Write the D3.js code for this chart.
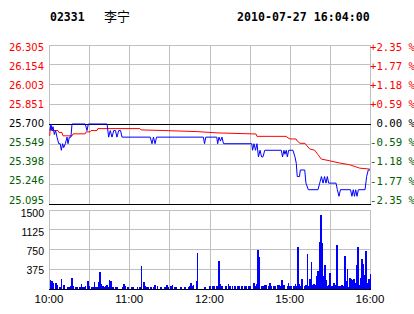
<!DOCTYPE html>
<html>
<head>
<meta charset="utf-8">
<script src="https://cdn.jsdelivr.net/npm/d3@7"></script>
<style>
  body { margin: 0; background: #fff; }
  svg { display: block; }
</style>
</head>
<body>
<div id="chart"></div>
<script>
// cabecera
const stockCode = "02331";
const stockName = "李宁";
const stamp = "2010-07-27 16:04:00";
const prevClose = 25.700;

// ejes
const priceTicks = [25.095, 25.246, 25.398, 25.549, 25.700, 25.851, 26.003, 26.154, 26.305];
const pctLabels = ["-2.35 %", "-1.77 %", "-1.18 %", "-0.59 %", " 0.00 %", "+0.59 %", "+1.18 %", "+1.77 %", "+2.35 %"];
const volTicks = [375, 750, 1125, 1500];
const timeTicks = [0, 60, 120, 180, 240];          // minutos de sesión
const timeLabels = ["10:00", "11:00", "12:00", "15:00", "16:00"];

// precio (minuto de sesión, precio)
const priceLine = [
  [0.7, 25.65], [1.5, 25.70], [2.2, 25.65], [3.0, 25.68], [4.0, 25.62], [4.9, 25.65],
  [6.0, 25.60], [7.3, 25.55], [8.4, 25.55], [9.2, 25.50], [10.2, 25.55], [11.0, 25.52],
  [12.2, 25.55], [13.5, 25.60], [14.2, 25.55], [15.2, 25.60], [16.4, 25.60], [17.2, 25.70],
  [27.1, 25.70], [28.4, 25.65], [29.4, 25.70], [43.4, 25.70], [44.6, 25.60], [45.8, 25.65],
  [47.1, 25.60], [48.4, 25.65], [49.7, 25.65], [50.8, 25.60], [52.1, 25.65], [53.5, 25.65],
  [54.6, 25.60], [75.7, 25.60], [77.0, 25.55], [78.1, 25.60], [79.3, 25.55], [80.4, 25.60],
  [115.4, 25.60], [116.3, 25.55], [117.2, 25.60], [125.4, 25.60], [126.1, 25.55], [127.1, 25.60],
  [128.2, 25.57], [129.3, 25.60], [130.5, 25.55], [151.6, 25.55], [152.2, 25.50], [153.3, 25.55],
  [154.4, 25.50], [155.5, 25.55], [156.6, 25.45], [157.8, 25.50], [158.9, 25.45], [160.0, 25.45],
  [161.3, 25.50], [173.7, 25.50], [174.6, 25.45], [175.7, 25.50], [176.4, 25.47], [177.4, 25.50],
  [178.2, 25.45], [179.2, 25.50], [182.4, 25.50], [183.9, 25.45], [184.9, 25.40], [185.6, 25.30],
  [187.3, 25.30], [187.9, 25.35], [191.2, 25.35], [192.1, 25.25], [193.9, 25.20], [201.1, 25.20],
  [202.4, 25.25], [203.7, 25.30], [204.9, 25.25], [206.0, 25.30], [207.1, 25.25], [208.1, 25.30],
  [209.1, 25.25], [214.6, 25.25], [215.6, 25.20], [216.8, 25.15], [217.9, 25.20], [225.4, 25.20],
  [226.5, 25.15], [227.5, 25.20], [228.4, 25.15], [229.3, 25.20], [230.3, 25.15], [231.3, 25.20],
  [236.3, 25.20], [237.5, 25.30], [238.7, 25.35], [240, 25.35]
];

// precio medio
const avgLine = [
  [0.5, 25.61], [1, 25.67], [2.2, 25.65], [6.7, 25.65], [7.5, 25.635], [9.7, 25.635],
  [10.5, 25.61], [17.2, 25.61], [18, 25.625], [27, 25.625], [27.7, 25.64], [30.7, 25.64],
  [31.4, 25.65], [35.9, 25.65], [36.6, 25.665], [68, 25.665], [68.8, 25.655], [86.7, 25.65],
  [110.7, 25.642], [126.4, 25.632], [154.8, 25.624], [155.5, 25.606], [177.2, 25.606],
  [178.7, 25.595], [180.2, 25.586], [184.7, 25.586], [185.6, 25.57], [187.7, 25.553],
  [191.4, 25.553], [192.4, 25.54], [194.9, 25.51], [198.7, 25.50], [201.1, 25.467],
  [203.6, 25.433], [209.9, 25.42], [217.3, 25.403], [224.8, 25.39], [232.3, 25.364], [239.8, 25.357]
];

// volumen por minuto
const volume = [
  [1,156],[2,150],[3,112],[5,112],[6,62],[8,31],[9,175],[11,62],[14,30],[15,30],[16,45],[17,194],
  [18,45],[20,30],[21,30],[23,30],[24,81],[25,30],[26,30],[27,50],[29,137],[30,45],[32,30],[33,30],
  [34,131],[35,30],[36,30],[37,131],[38,306],[39,81],[40,45],[41,30],[42,45],[43,62],[44,30],[45,156],
  [46,144],[47,30],[48,30],[50,30],[51,30],[55,30],[56,81],[57,45],[59,30],[62,30],[63,30],[66,30],
  [68,30],[69,419],[71,125],[72,45],[73,30],[74,30],[76,30],[78,30],[79,62],[81,45],[83,30],[84,30],
  [86,30],[87,30],[88,62],[89,30],[91,45],[92,62],[94,30],[95,30],[98,30],[99,30],[101,30],[102,30],
  [104,30],[105,45],[106,106],[107,45],[108,62],[110,144],[111,681],[116,30],[117,30],
  [120,38],[122,38],[123,38],[125,38],[126,38],[127,515],[128,76],[129,38],[132,38],[134,76],[135,50],
  [137,38],[139,38],[141,38],[142,38],[144,38],[146,38],[147,38],[149,38],[150,38],[153,95],[154,38],
  [155,76],[156,740],[157,590],[159,38],[160,38],[161,57],[162,57],[164,38],[165,113],[166,38],
  [168,38],[169,38],[171,57],[172,57],[173,38],[174,170],[175,57],[176,57],[178,38],[179,95],[180,38],
  [181,38],[183,38],[184,76],[185,38],[186,780],[187,76],[188,38],[189,175],[191,38],[192,57],
  [193,650],[194,38],[195,175],[196,500],[197,57],[198,76],[199,57],[200,230],[201,325],[202,880],
  [203,1405],[204,860],[205,230],[206,443],[207,158],[208,38],[209,57],[210,290],[211,45],[212,50],
  [213,107],[214,57],[215,820],[216,38],[217,45],[218,45],[219,57],[220,38],[221,614],[222,139],
  [223,367],[224,30],[225,196],[226,171],[227,160],[228,184],[229,100],[230,443],[231,785],[232,57],
  [233,196],[234,551],[235,462],[236,247],[237,703],[238,108],[239,171],[240,272]
];

const W = 414, H = 314;
const gridColor = "#c0c0c0";
const upColor = "#ff0000", downColor = "#006000";

const svg = d3.select("#chart").append("svg")
    .attr("width", W)
    .attr("height", H);

svg.append("rect").attr("width", W).attr("height", H).attr("fill", "#fff");

// escalas
const x = d3.scaleLinear().domain([0, 240]).range([49, 370]);
const y = d3.scaleLinear().domain([25.095, 26.305]).range([203.5, 44.5]);
const yLabel = d3.scaleLinear().domain([25.095, 26.305]).range([200, 47]);
const yVol = d3.scaleLinear().domain([0, 1500]).range([288.5, 209.5]);
const yVolLabel = d3.scaleLinear().domain([0, 1500]).range([289, 213.3]);

const colorFor = v => Math.abs(v - prevClose) < 1e-6 ? "#000" : (v > prevClose ? upColor : downColor);

// cabecera
const mono = "'DejaVu Sans Mono', monospace";
svg.append("text").attr("x", 50).attr("y", 21)
    .style("font", `bold 11.5px ${mono}`).text(stockCode);
svg.append("text").attr("x", 104).attr("y", 21)
    .style("font", "13px 'Noto Sans CJK SC', sans-serif").text(stockName);
svg.append("text").attr("x", 237).attr("y", 21)
    .style("font", `bold 11.6px ${mono}`).text(stamp);

// rejilla vertical (cada 30 min)
const vLines = d3.range(0, 241, 30);
[[44.5, 203.5], [209.5, 288.5]].forEach(([t, b]) => {
  svg.append("g").selectAll("line").data(vLines).enter().append("line")
      .attr("x1", d => Math.round(x(d)) + 0.5).attr("x2", d => Math.round(x(d)) + 0.5)
      .attr("y1", t).attr("y2", b)
      .attr("stroke", gridColor).attr("shape-rendering", "crispEdges");
});

// rejilla horizontal precio
svg.append("g").selectAll("line").data(priceTicks).enter().append("line")
    .attr("x1", x(0)).attr("x2", x(240) + 1)
    .attr("y1", d => Math.round(y(d)) + 0.5).attr("y2", d => Math.round(y(d)) + 0.5)
    .attr("stroke", d => (d === prevClose || d === priceTicks[0]) ? "#000" : gridColor)
    .attr("shape-rendering", "crispEdges");

// rejilla horizontal volumen
svg.append("g").selectAll("line").data(volTicks).enter().append("line")
    .attr("x1", x(0)).attr("x2", x(240) + 1)
    .attr("y1", d => Math.round(yVol(d)) + 0.5).attr("y2", d => Math.round(yVol(d)) + 0.5)
    .attr("stroke", gridColor).attr("shape-rendering", "crispEdges");

// etiquetas eje izquierdo
svg.append("g").selectAll("text").data(priceTicks).enter().append("text")
    .attr("x", 44).attr("y", d => yLabel(d))
    .attr("dy", "0.35em").attr("text-anchor", "end")
    .style("font", "10px 'DejaVu Sans', sans-serif")
    .attr("fill", colorFor)
    .text(d => d.toFixed(3));

// etiquetas eje derecho (%)
svg.append("g").selectAll("text").data(priceTicks).enter().append("text")
    .attr("x", 370).attr("y", d => yLabel(d))
    .attr("dy", "0.35em")
    .attr("xml:space", "preserve")
    .style("white-space", "pre")
    .style("font", `10.7px ${mono}`)
    .attr("fill", colorFor)
    .text((d, i) => pctLabels[i]);

// etiquetas volumen
svg.append("g").selectAll("text").data(volTicks).enter().append("text")
    .attr("x", 44).attr("y", d => yVolLabel(d))
    .attr("dy", "0.35em").attr("text-anchor", "end")
    .style("font", "10.5px 'Liberation Sans', Arial, sans-serif")
    .attr("fill", "#000")
    .text(d => d);

// etiquetas de tiempo
svg.append("g").selectAll("text").data(timeTicks).enter().append("text")
    .attr("x", d => x(d)).attr("y", 303)
    .attr("text-anchor", "middle")
    .style("font", "11.5px 'Liberation Sans', Arial, sans-serif")
    .text((d, i) => timeLabels[i]);

// barras de volumen
svg.append("g").selectAll("rect").data(volume).enter().append("rect")
    .attr("x", d => x(d[0]) - 0.5)
    .attr("width", 1.5)
    .attr("y", d => yVol(d[1]))
    .attr("height", d => yVol(0) - yVol(d[1]))
    .attr("fill", "#0000ff")
    .attr("shape-rendering", "crispEdges");

// base volumen
svg.append("line")
    .attr("x1", x(0)).attr("x2", x(240) + 1)
    .attr("y1", Math.round(yVol(0)) + 0.5).attr("y2", Math.round(yVol(0)) + 0.5)
    .attr("stroke", "#000").attr("shape-rendering", "crispEdges");

// líneas de precio
const line = d3.line().x(d => x(d[0])).y(d => y(d[1]));
svg.append("path").datum(avgLine)
    .attr("d", line).attr("fill", "none")
    .attr("stroke", "#ff0000").attr("stroke-width", 1);
svg.append("path").datum(priceLine)
    .attr("d", line).attr("fill", "none")
    .attr("stroke", "#0000ff").attr("stroke-width", 1);
</script>
</body>
</html>
